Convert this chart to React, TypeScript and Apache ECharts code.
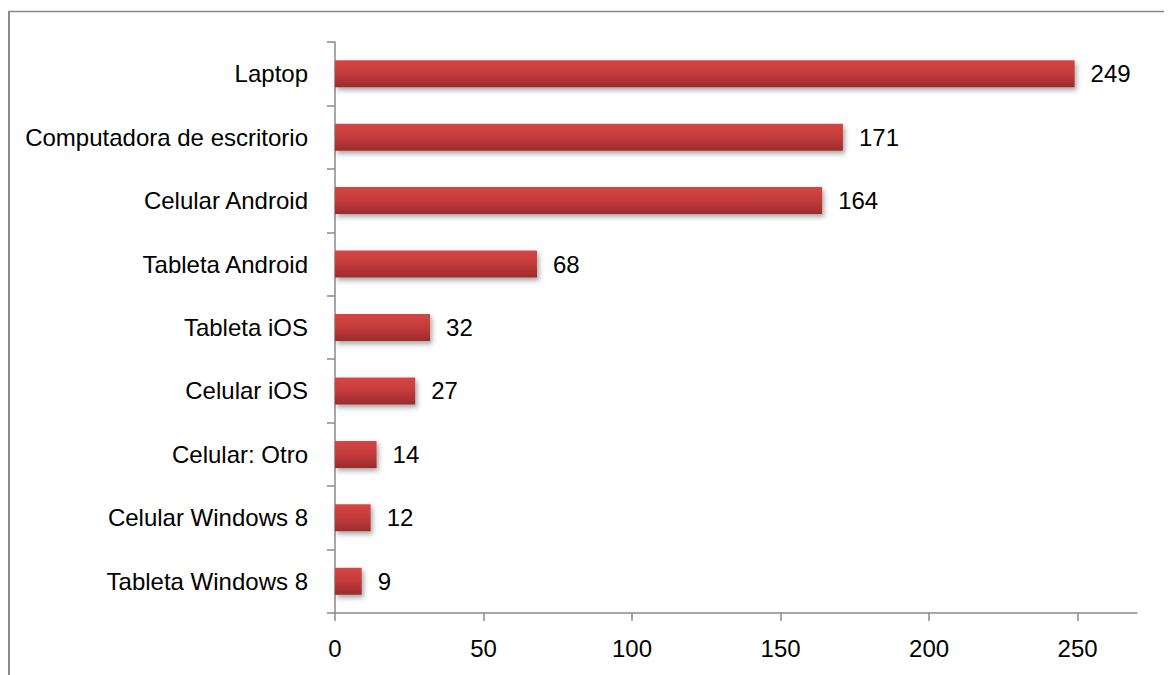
import React, { useEffect, useRef } from "react";
import * as echarts from "echarts";

const categories = [
  "Laptop",
  "Computadora de escritorio",
  "Celular Android",
  "Tableta Android",
  "Tableta iOS",
  "Celular iOS",
  "Celular: Otro",
  "Celular Windows 8",
  "Tableta Windows 8",
];
const values = [249, 171, 164, 68, 32, 27, 14, 12, 9];
const xTicks = [0, 50, 100, 150, 200, 250];

const FONT = "'Liberation Sans', Arial, sans-serif";
const FS = 24;

export default function App() {
  const ref = useRef<HTMLDivElement>(null);
  useEffect(() => {
    if (!ref.current) return;
    const chart = echarts.init(ref.current, null, { renderer: "svg" });
    chart.setOption({
      animation: false,
      backgroundColor: "#ffffff",
      textStyle: { fontFamily: FONT },
      graphic: [
        { type: "line", shape: { x1: 1, y1: 3.5, x2: 1, y2: 700 }, style: { stroke: "#8a8a8a", lineWidth: 2 } },
        { type: "line", shape: { x1: 0, y1: 3.5, x2: 1200, y2: 3.5 }, style: { stroke: "#8a8a8a", lineWidth: 1.5 } },
      ],
      grid: { left: 327, top: 34, right: 35, bottom: 62, containLabel: false, outerBoundsMode: "none" },
      xAxis: {
        type: "value",
        min: 0,
        max: 270,
        interval: 50,
        splitLine: { show: false },
        axisLine: { show: true, lineStyle: { color: "#8a8a8a", width: 1.5 } },
        axisTick: { show: true, length: 8, lineStyle: { color: "#8a8a8a", width: 1.5 }, customValues: xTicks },
        axisLabel: { color: "#000", fontSize: FS, fontFamily: FONT, margin: 23, customValues: xTicks },
      },
      yAxis: {
        type: "category",
        inverse: true,
        data: categories,
        axisLine: { show: true, lineStyle: { color: "#8a8a8a", width: 1.5 } },
        axisTick: { show: true, length: 8, alignWithLabel: false, lineStyle: { color: "#8a8a8a", width: 1.5 } },
        axisLabel: { color: "#000", fontSize: FS, fontFamily: FONT, margin: 27 },
      },
      series: [
        {
          type: "bar",
          data: values,
          barWidth: 27,
          itemStyle: {
            color: new echarts.graphic.LinearGradient(0, 0, 0, 1, [
              { offset: 0, color: "#d54646" },
              { offset: 0.5, color: "#c43b3b" },
              { offset: 1, color: "#9c2b2b" },
            ]),
            shadowColor: "rgba(0,0,0,0.35)",
            shadowBlur: 5,
            shadowOffsetX: 2,
            shadowOffsetY: 3,
          },
          label: {
            show: true,
            position: "right",
            distance: 16,
            color: "#000",
            fontSize: FS,
            fontFamily: FONT,
          },
        },
      ],
    });
    return () => chart.dispose();
  }, []);
  return <div ref={ref} style={{ width: 1164, height: 667 }} />;
}
